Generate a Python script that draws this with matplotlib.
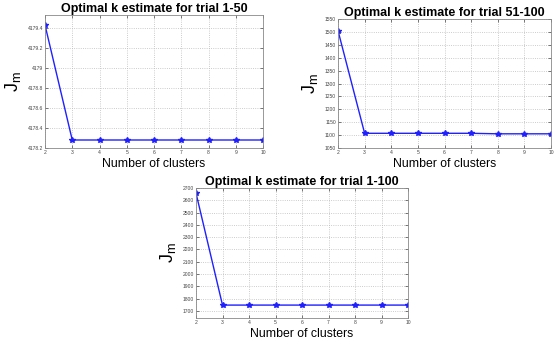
import matplotlib
matplotlib.use("Agg")
import matplotlib.pyplot as plt

plt.rcParams['font.family'] = ['Liberation Sans', 'DejaVu Sans']

clusters = [2, 3, 4, 5, 6, 7, 8, 9, 10]
jm_1_50 = [4179.43, 4178.28, 4178.28, 4178.28, 4178.28, 4178.28, 4178.28, 4178.28, 4178.28]
jm_51_100 = [1505, 1107, 1107, 1107, 1107, 1107, 1105, 1105, 1105]
jm_1_100 = [2659, 1748, 1748, 1748, 1748, 1748, 1748, 1748, 1748]

titles = ["Optimal k estimate for trial 1-50",
          "Optimal k estimate for trial 51-100",
          "Optimal k estimate for trial 1-100"]

W, H = 556, 341
fig = plt.figure(figsize=(W / 100, H / 100), dpi=100)
fig.patch.set_facecolor('white')


def px_axes(left, top, right, bottom):
    return fig.add_axes([left / W, 1 - bottom / H, (right - left) / W, (bottom - top) / H])


panels = [
    (px_axes(45, 15, 263, 148), jm_1_50, (4178.2, 4179.53),
     [4178.2, 4178.4, 4178.6, 4178.8, 4179.0, 4179.2, 4179.4],
     ["4178.2", "4178.4", "4178.6", "4178.8", "4179", "4179.2", "4179.4"]),
    (px_axes(338, 19, 551, 148), jm_51_100, (1050, 1550),
     list(range(1050, 1551, 50)), [str(v) for v in range(1050, 1551, 50)]),
    (px_axes(196, 188, 408, 318), jm_1_100, (1643, 2700),
     list(range(1700, 2701, 100)), [str(v) for v in range(1700, 2701, 100)]),
]

for (ax, vals, ylim, yt, ytl), title in zip(panels, titles):
    ax.plot(clusters, vals, color='#2020ff', lw=1.0, marker='*', ms=4.2,
            markerfacecolor='#2020ff', markeredgecolor='#2020ff')
    ax.set_xlim(2, 10)
    ax.set_ylim(*ylim)
    ax.set_xticks(clusters)
    ax.set_xticklabels([str(c) for c in clusters])
    ax.set_yticks(yt)
    ax.set_yticklabels(ytl)
    ax.tick_params(labelsize=3.6, length=2, width=0.5, pad=1.5, colors='#444444',
                   direction='in', top=True, right=True)
    ax.grid(True, linestyle=':', color='#bbbbbb', lw=0.6)
    for s in ax.spines.values():
        s.set_color('#888888')
        s.set_linewidth(0.6)
    ax.set_title(title, fontsize=9, fontweight='bold', pad=2)
    ax.set_xlabel("Number of clusters", fontsize=8.8, labelpad=2)
    ax.set_ylabel(r"$\mathregular{J_m}$", fontsize=13, labelpad=3)

fig.savefig("out.png", dpi=100)
